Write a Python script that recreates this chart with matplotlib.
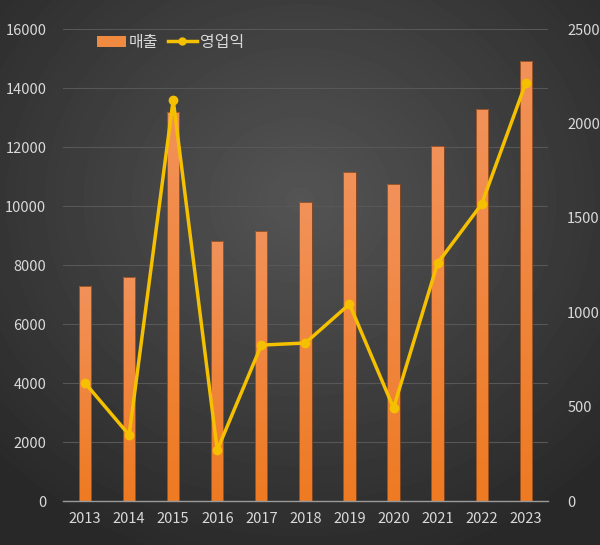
import numpy as np
import matplotlib.pyplot as plt
from matplotlib.colors import LinearSegmentedColormap
from matplotlib.lines import Line2D
from matplotlib.patches import Patch

plt.rcParams['font.family'] = ['Noto Sans CJK KR', 'DejaVu Sans']

# data
years = ['2013', '2014', '2015', '2016', '2017', '2018', '2019', '2020', '2021', '2022', '2023']
sales = [7300, 7600, 13200, 8800, 9150, 10150, 11150, 10750, 12030, 13300, 14900]
profit = [625, 350, 2124, 270, 826, 837, 1043, 493, 1260, 1573, 2214]

fig = plt.figure(figsize=(6, 5.45), dpi=100)

# dark radial background
bg = fig.add_axes([0, 0, 1, 1])
bg.set_axis_off()
yy, xx = np.mgrid[0:545, 0:600]
r = np.sqrt(((xx - 300) / 420.0) ** 2 + ((yy - 200) / 380.0) ** 2)
shade = np.clip(0.33 - 0.17 * r, 0.16, 0.34)
bg.imshow(shade, cmap='gray', vmin=0, vmax=1, aspect='auto', extent=[0, 1, 0, 1])
bg.set_xlim(0, 1)
bg.set_ylim(0, 1)

ax = fig.add_axes([0.105, 0.0807, 0.808, 0.866])
ax.patch.set_alpha(0)
x = np.arange(len(years))
w = 0.28

bar_cmap = LinearSegmentedColormap.from_list('bar', ['#ee7a22', '#f2925a'])
grad = np.linspace(0, 1, 256).reshape(-1, 1)
bars = ax.bar(x, sales, width=w, color='none', edgecolor='#8a4a20', linewidth=0.6, zorder=2)
for b in bars:
    x0, y0 = b.get_x(), b.get_y()
    img = ax.imshow(grad, cmap=bar_cmap, aspect='auto', origin='lower',
                    extent=[x0, x0 + b.get_width(), y0, y0 + b.get_height()], zorder=1.5)
    img.set_clip_path(b)

ax.set_xlim(-0.5, len(years) - 0.5)
ax.set_ylim(0, 16000)
ax.set_yticks(np.arange(0, 16001, 2000))
ax.set_xticks(x)
ax.set_xticklabels(years)
ax.grid(axis='y', color='#575757', linewidth=0.8, zorder=0)
ax.set_axisbelow(True)
for s in ['top', 'right', 'left']:
    ax.spines[s].set_visible(False)
ax.spines['bottom'].set_color('#9a9a9a')
ax.spines['bottom'].set_linewidth(1.0)
ax.tick_params(axis='both', length=0, colors='#d9d9d9', labelsize=10.5)
ax.tick_params(axis='x', pad=8)
ax.tick_params(axis='y', pad=12)

ax2 = ax.twinx()
ax2.plot(x, profit, color='#f5c000', linewidth=2.5, marker='o', markersize=6, zorder=3)
ax2.set_ylim(0, 2500)
ax2.set_yticks(np.arange(0, 2501, 500))
for s in ['top', 'right', 'left', 'bottom']:
    ax2.spines[s].set_visible(False)
ax2.tick_params(axis='y', length=0, colors='#d9d9d9', labelsize=10.5, pad=14)

handles = [Patch(facecolor='#f08a40', edgecolor='none'),
           Line2D([0], [0], color='#f5c000', linewidth=2.5, marker='o', markersize=5)]
leg = ax.legend(handles, ['매출', '영업익'], loc='upper left', bbox_to_anchor=(0.04, 1.02),
                ncol=2, frameon=False, fontsize=11.5, handlelength=1.8, handletextpad=0.2,
                columnspacing=0.6, labelcolor='#d9d9d9')

fig.savefig('out.png', dpi=100)
